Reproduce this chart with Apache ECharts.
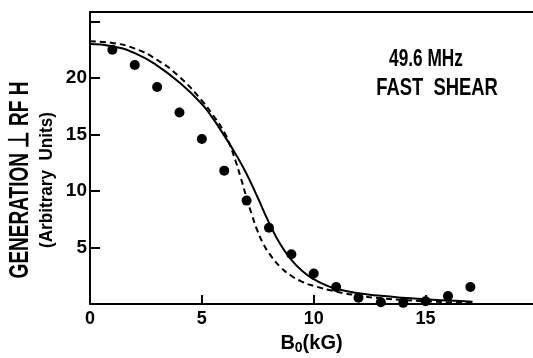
<!DOCTYPE html>
<html>
<head>
<meta charset="utf-8">
<script src="https://cdn.jsdelivr.net/npm/echarts@6/dist/echarts.min.js"></script>
<style>
html,body{margin:0;padding:0;background:#fff;}
#chart{width:533px;height:358px;}
</style>
</head>
<body>
<div id="chart"></div>
<script>
// Measured points (B0 in kG, generation in arbitrary units)
const dotX = [1,2,3,4,5,6,7,8,9,10,11,12,13,14,15,16,17];
const dotY = [22.5,21.15,19.2,16.95,14.6,11.8,9.15,6.75,4.4,2.7,1.5,0.55,0.15,0.1,0.25,0.7,1.5];

// Solid theory curve
const solidX = [0,1,2,3,4,5,5.5,6,6.5,7,7.5,8,8.5,9,9.5,10,10.5,11,12,13,14,15,16,17.1];
const solidY = [23.0,22.8,22.2,21.1,19.6,17.7,16.4,14.9,13.3,11.5,9.4,7.2,5.3,3.9,2.9,2.2,1.7,1.35,0.95,0.72,0.55,0.42,0.3,0.2];

// Dashed theory curve
const dashX = [0,1,2,3,4,5,5.5,6,6.25,6.5,6.75,7,7.25,7.5,7.75,8,8.5,9,9.5,10,11,12,13,14,15,16,17.1];
const dashY = [23.25,23.1,22.6,21.6,20.1,18.0,16.7,15.2,14.1,12.7,11.1,9.4,7.8,6.4,5.3,4.5,3.3,2.5,1.95,1.6,1.1,0.75,0.5,0.35,0.25,0.15,0.08];

const xTicks = [0,5,10,15];
const yTicks = [5,10,15,20];

const FONT = "'Liberation Sans','Arial',sans-serif";

const zip = (xs, ys) => xs.map((x, i) => [x, ys[i]]);

const chart = echarts.init(document.getElementById('chart'), null, {renderer: 'canvas'});
chart.setOption({
  animation: false,
  backgroundColor: '#fff',
  grid: {left: 90, right: 0, top: 12, bottom: 54, outerBoundsMode: 'none', containLabel: false},
  xAxis: [{
    type: 'value', min: 0, max: 19.8, interval: 5,
    axisLine: {show: true, onZero: false, lineStyle: {color: '#000', width: 2}},
    axisTick: {show: true, inside: true, length: 9, lineStyle: {color: '#000', width: 2}},
    axisLabel: {
      show: true, margin: 6, color: '#000', fontFamily: FONT, fontWeight: 'bold', fontSize: 18,
      showMaxLabel: false,
      formatter: v => xTicks.includes(v) ? String(v) : ''
    },
    splitLine: {show: false},
    name: 'B{s|0}(kG)', nameLocation: 'middle', nameGap: 27,
    nameTextStyle: {
      color: '#000', fontFamily: FONT, fontWeight: 'bold', fontSize: 20,
      rich: {s: {fontFamily: FONT, fontWeight: 'bold', fontSize: 14, verticalAlign: 'bottom', padding: [10,0,0,0]}}
    }
  }, {
    type: 'value', position: 'top', min: 0, max: 19.8,
    axisLine: {show: true, onZero: false, lineStyle: {color: '#000', width: 2}},
    axisTick: {show: false}, axisLabel: {show: false}, splitLine: {show: false}
  }],
  yAxis: {
    type: 'value', min: 0, max: 25.84, interval: 5,
    axisLine: {show: true, onZero: false, lineStyle: {color: '#000', width: 2}},
    axisTick: {show: true, inside: true, length: 10, lineStyle: {color: '#000', width: 2}},
    axisLabel: {
      show: true, margin: 3, color: '#000', fontFamily: FONT, fontWeight: 'bold', fontSize: 19,
      showMinLabel: false,
      formatter: v => yTicks.includes(v) ? String(v) : ''
    },
    splitLine: {show: false}
  },
  graphic: [
    {type: 'text', x: 20, y: 180, rotation: Math.PI/2, scaleX: 0.68,
      style: {text: 'GENERATION ⊥ RF H', fill: '#000', font: "bold 28px " + FONT, align: 'center', verticalAlign: 'middle'}},
    {type: 'text', x: 47, y: 180, rotation: Math.PI/2, scaleX: 0.95,
      style: {text: '(Arbitrary  Units)', fill: '#000', font: "bold 18px " + FONT, align: 'center', verticalAlign: 'middle'}},
    {type: 'text', x: 426, y: 60, scaleX: 0.75,
      style: {text: '49.6 MHz', fill: '#000', font: "bold 23px " + FONT, align: 'center', verticalAlign: 'middle'}},
    {type: 'text', x: 437, y: 89, scaleX: 0.8,
      style: {text: 'FAST  SHEAR', fill: '#000', font: "bold 23px " + FONT, align: 'center', verticalAlign: 'middle'}}
  ],
  series: [
    {type: 'line', data: zip(solidX, solidY), showSymbol: false, smooth: 0.5,
      lineStyle: {color: '#000', width: 2}, z: 2},
    {type: 'line', data: zip(dashX, dashY), showSymbol: false, smooth: 0.5,
      lineStyle: {color: '#000', width: 2, type: [6, 4]}, z: 2},
    {type: 'scatter', data: zip(dotX, dotY), symbol: 'circle', symbolSize: 10,
      itemStyle: {color: '#000', opacity: 1}, z: 3}
  ]
});
</script>
</body>
</html>
